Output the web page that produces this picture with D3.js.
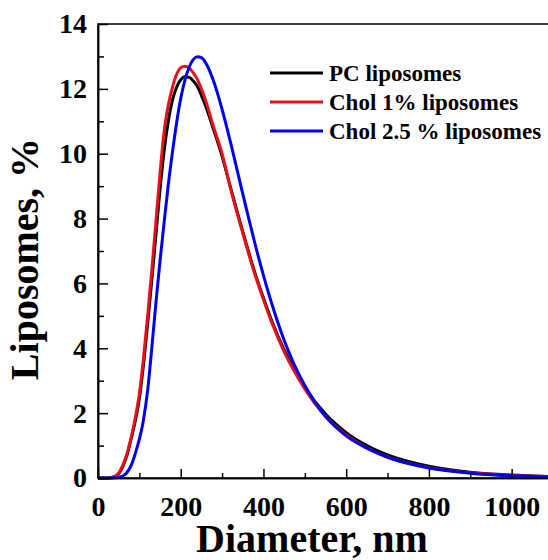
<!DOCTYPE html>
<html>
<head>
<meta charset="utf-8">
<script src="https://cdn.jsdelivr.net/npm/d3@7"></script>
<style>
  body { margin: 0; background: #fff; }
  svg { display: block; font-family: "Liberation Serif", "Times New Roman", serif; font-weight: bold; }
</style>
</head>
<body>
<div id="chart"></div>
<script>
// diameters (nm), shared by all three series
var diameters = [0, 20, 30, 40, 50, 60, 70, 80, 90, 100, 110, 120, 130, 140, 150, 160, 170, 180, 190, 200,
    210, 220, 230, 240, 250, 260, 280, 300, 320, 340, 360, 380, 400, 420, 450, 500, 550, 600, 650, 700,
    800, 900, 1000, 1100];

var pcValues = [0, 0, 0.01, 0.04, 0.13, 0.36, 0.7, 1.2, 1.75, 2.45, 3.5, 4.75, 6.1, 7.5, 8.9, 10.1, 11.0, 11.65, 12.05, 12.28,
    12.37, 12.36, 12.25, 12.08, 11.8, 11.48, 10.72, 9.92, 8.98, 8.05, 7.15, 6.3, 5.55, 4.85, 3.95, 2.8, 1.97, 1.4, 1.0, 0.71,
    0.36, 0.18, 0.09, 0.045];

var chol1Values = [0, 0, 0.01, 0.05, 0.15, 0.4, 0.75, 1.25, 1.85, 2.6, 3.7, 5.0, 6.4, 7.9, 9.4, 10.7, 11.5, 12.05, 12.45, 12.65,
    12.7, 12.65, 12.5, 12.3, 12.0, 11.65, 10.8, 10.0, 8.95, 8.0, 7.1, 6.25, 5.5, 4.8, 3.9, 2.75, 1.9, 1.33, 0.93, 0.65,
    0.32, 0.16, 0.08, 0.04];

var chol25Values = [0, 0, 0, 0.005, 0.02, 0.06, 0.17, 0.38, 0.75, 1.2, 1.8, 2.7, 4.0, 5.4, 6.7, 7.9, 9.05, 10.05, 10.95, 11.7,
    12.26, 12.66, 12.9, 12.99, 12.96, 12.81, 12.22, 11.37, 10.37, 9.3, 8.23, 7.2, 6.25, 5.38, 4.25, 2.85, 1.9, 1.3, 0.92, 0.64,
    0.31, 0.15, 0.07, 0.03];

var seriesNames = ["PC liposomes", "Chol 1% liposomes", "Chol 2.5 % liposomes"];
var seriesColors = ["#000000", "#e8101a", "#0000f0"];
var seriesValues = [pcValues, chol1Values, chol25Values];

var xMajorTicks = [0, 200, 400, 600, 800, 1000];
var xMinorTicks = [100, 300, 500, 700, 900];
var yMajorTicks = [0, 2, 4, 6, 8, 10, 12, 14];
var yMinorTicks = [1, 3, 5, 7, 9, 11, 13];

var svgWidth = 548;
var svgHeight = 560;

var margin = {
    top: 24,
    left: 98
};
var width = 455;
var height = 454;

var svg = d3.select('#chart')
    .append('svg')
    .attr('width', svgWidth)
    .attr('height', svgHeight);

var chartGroup = svg.append('g')
    .attr('transform', `translate(${margin.left}, ${margin.top})`);

var xScale = d3.scaleLinear()
    .domain([0, 1100])
    .range([0, width]);

var yScale = d3.scaleLinear()
    .domain([0, 14])
    .range([height, 0]);

// frame
chartGroup.append('rect')
    .attr('x', 0)
    .attr('y', 0)
    .attr('width', width)
    .attr('height', height)
    .attr('fill', 'none')
    .attr('stroke', '#000')
    .attr('stroke-width', 1.5);

// curves
var line = d3.line()
    .x((d, i) => xScale(diameters[i]))
    .y(d => yScale(d))
    .curve(d3.curveMonotoneX);

seriesValues.forEach(function(vals, i) {
    chartGroup.append('path')
        .datum(vals)
        .attr('fill', 'none')
        .attr('stroke', seriesColors[i])
        .attr('stroke-width', 3)
        .attr('stroke-linejoin', 'round')
        .attr('d', line);
});

// axes, ticks pointing inward
var bottomMajor = d3.axisBottom(xScale)
    .tickValues(xMajorTicks)
    .tickFormat(d3.format('d'))
    .tickSize(-9)
    .tickSizeOuter(0)
    .tickPadding(18);

var bottomMinor = d3.axisBottom(xScale)
    .tickValues(xMinorTicks)
    .tickSize(-5)
    .tickSizeOuter(0)
    .tickFormat('');

var leftMajor = d3.axisLeft(yScale)
    .tickValues(yMajorTicks)
    .tickSize(-10)
    .tickSizeOuter(0)
    .tickPadding(11);

var leftMinor = d3.axisLeft(yScale)
    .tickValues(yMinorTicks)
    .tickSize(-6)
    .tickSizeOuter(0)
    .tickFormat('');

[bottomMajor, bottomMinor].forEach(function(ax) {
    chartGroup.append('g')
        .attr('transform', `translate(0, ${height})`)
        .call(ax);
});
[leftMajor, leftMinor].forEach(function(ax) {
    chartGroup.append('g')
        .call(ax);
});

chartGroup.selectAll('.domain')
    .attr('stroke-width', 1.5);
chartGroup.selectAll('.tick line')
    .attr('stroke-width', 1.5);
chartGroup.selectAll('.tick text')
    .attr('font-family', '"Liberation Serif", "Times New Roman", serif')
    .attr('font-weight', 'bold')
    .attr('font-size', '28px')
    .attr('fill', '#000');

// axis titles
svg.append('text')
    .attr('x', 312)
    .attr('y', 552)
    .attr('text-anchor', 'middle')
    .attr('font-size', '40px')
    .text('Diameter, nm');

svg.append('text')
    .attr('transform', 'translate(38, 259) rotate(-90)')
    .attr('text-anchor', 'middle')
    .attr('font-size', '40px')
    .text('Liposomes, %');

// legend
var legend = svg.append('g')
    .attr('transform', 'translate(270, 73)');

seriesNames.forEach(function(name, i) {
    var row = legend.append('g')
        .attr('transform', `translate(0, ${i * 29})`);
    row.append('line')
        .attr('x1', 0)
        .attr('x2', 53)
        .attr('y1', 0)
        .attr('y2', 0)
        .attr('stroke', seriesColors[i])
        .attr('stroke-width', 3);
    row.append('text')
        .attr('x', 59)
        .attr('y', 8)
        .attr('font-size', '23px')
        .text(name);
});
</script>
</body>
</html>
